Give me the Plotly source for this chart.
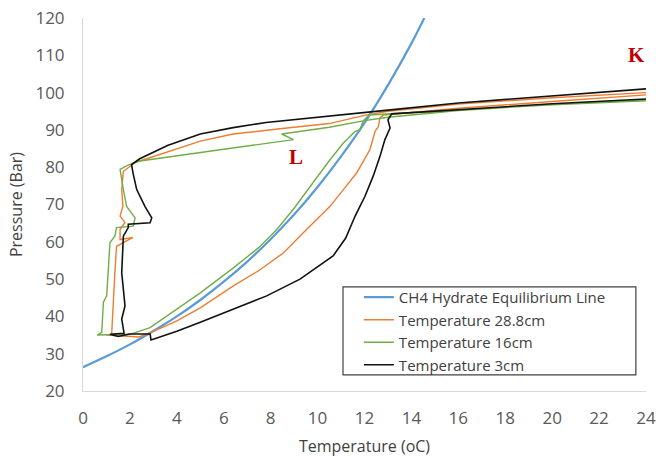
import plotly.graph_objects as go

# CH4 hydrate equilibrium line
eq_T = [0, 1, 2, 3, 4, 5, 6, 7, 8, 9, 10, 11, 12, 13, 14, 14.55]
eq_P = [26.4, 29.3, 32.5, 36.1, 40.0, 44.4, 49.3, 54.7, 60.7, 67.3, 74.7, 82.9, 91.9, 102.0, 113.2, 120.0]

# Temperature 28.8cm (orange)
t288_T = [24, 20, 16, 13, 12, 10.5, 8.4, 6.4, 5.0, 3.6, 2.8, 2.2,
          2.0, 1.72, 1.65, 1.7, 1.58, 1.79, 1.58, 1.58, 2.13, 1.43, 1.36, 1.29, 1.22, 1.22,
          1.0, 1.8, 2.4, 3.0, 4.0, 5.0, 6.41, 7.5, 8.54, 9.53, 10.53, 11.1, 11.67, 12.23,
          12.45, 12.59, 12.66, 12.8, 16, 20, 24]
t288_P = [100.0, 98.6, 96.9, 95.0, 93.9, 91.7, 90.3, 88.9, 87.0, 84.2, 82.5, 81.2,
          80.2, 78.9, 74.0, 69.5, 66.9, 65.2, 63.3, 60.6, 61.2, 58.8, 51.8, 44.6, 36.6, 35.0,
          35.0, 34.8, 34.5, 36.0, 38.8, 42.3, 48.2, 52.3, 57.0, 63.3, 69.5, 74.0, 78.5, 84.7,
          89.6, 90.9, 93.2, 94.0, 95.8, 97.6, 99.4]

# Temperature 16cm (green)
t16_T = [24, 20, 16, 13, 12, 10.5, 8.47, 8.97, 6.0, 4.0, 2.35,
         1.9, 1.58, 1.72, 1.86, 2.22, 2.14, 1.43, 1.36, 1.15, 1.08, 1.01, 0.87, 0.8,
         0.6, 1.5, 2.0, 2.86, 4.0, 5.0, 6.41, 7.5, 8.26, 9.0, 10.0, 10.53, 11.1, 11.6,
         11.8, 11.95, 12.2, 16, 20, 24]
t16_P = [98.0, 96.8, 95.2, 93.4, 92.5, 90.7, 88.9, 87.4, 84.8, 83.1, 81.6,
         80.5, 79.4, 74.0, 69.5, 66.4, 64.2, 63.8, 61.5, 59.8, 51.7, 45.5, 43.8, 35.7,
         35.0, 35.0, 35.2, 37.0, 42.0, 46.3, 53.0, 58.5, 63.3, 69.0, 77.5, 82.0, 86.5, 89.6,
         90.0, 92.5, 94.0, 95.4, 96.7, 97.8]

# Temperature 3cm (black)
t3_T = [24, 20, 16, 13, 12, 10.5, 9.0, 7.8, 6.4, 5.0, 3.6, 2.9, 2.4,
        2.07, 2.13, 2.29, 2.5, 2.64, 2.93, 2.86, 1.93, 1.93, 1.72, 1.7, 1.65, 1.72, 1.79, 1.65, 1.72, 1.75,
        1.15, 1.5, 2.0, 2.86, 2.9, 4.0, 5.0, 6.41, 7.83, 9.25, 10.66, 11.2, 11.6, 12.02, 12.37,
        12.66, 12.87, 13.09, 13.0, 13.16, 16, 20, 24]
t3_P = [101.0, 99.2, 97.2, 95.3, 94.7, 93.7, 92.8, 92.0, 90.6, 88.9, 85.8, 83.6, 82.2,
        80.7, 78.5, 74.0, 71.0, 69.5, 66.4, 65.1, 64.7, 63.8, 61.5, 58.0, 51.7, 47.3, 42.8, 39.3, 36.6, 35.5,
        35.2, 34.6, 35.3, 35.3, 33.7, 36.0, 38.4, 41.9, 45.5, 50.0, 56.2, 61.0, 66.9, 72.2, 77.6,
        82.9, 87.4, 90.5, 92.7, 94.3, 95.5, 97.0, 98.3]

# Point labels
lab_text = ["L", "K"]
lab_T = [9.08, 23.6]
lab_P = [82.7, 110.0]

fig = go.Figure()
fig.add_trace(go.Scatter(x=eq_T, y=eq_P, mode="lines", name="CH4 Hydrate Equilibrium Line",
                         line=dict(color="#5B9BD5", width=2.2, shape="spline")))
fig.add_trace(go.Scatter(x=t288_T, y=t288_P, mode="lines", name="Temperature 28.8cm",
                         line=dict(color="#ED7D31", width=1.4)))
fig.add_trace(go.Scatter(x=t16_T, y=t16_P, mode="lines", name="Temperature 16cm",
                         line=dict(color="#70AD47", width=1.4)))
fig.add_trace(go.Scatter(x=t3_T, y=t3_P, mode="lines", name="Temperature 3cm",
                         line=dict(color="#111111", width=1.6)))

for txt, xx, yy in zip(lab_text, lab_T, lab_P):
    fig.add_annotation(x=xx, y=yy, text="<b>" + txt + "</b>", showarrow=False,
                       font=dict(family="Liberation Serif", size=21, color="#C00000"))

# legend frame
fig.add_shape(type="rect", xref="paper", yref="paper", x0=0.4618, x1=0.982, y0=0.043, y1=0.279,
              line=dict(color="#404040", width=1.2), fillcolor="rgba(0,0,0,0)")

fig.update_layout(
    width=656, height=459,
    margin=dict(l=83, r=10, t=18, b=68),
    paper_bgcolor="white", plot_bgcolor="white",
    font=dict(family="Open Sans", color="#404040"),
    showlegend=True,
    legend=dict(x=0.49, y=0.295, xanchor="left", yanchor="top",
                bgcolor="rgba(0,0,0,0)", borderwidth=0,
                font=dict(size=15, color="#404040"), itemwidth=30),
    xaxis=dict(range=[0, 24], dtick=2, showgrid=False, zeroline=False, automargin=False,
               showline=True, linecolor="#d9d9d9", linewidth=1, ticklabeloverflow="allow",
               tickfont=dict(size=17, color="#595959"), ticklabelstandoff=12,
               title=dict(text="Temperature (oC)", font=dict(size=16, color="#404040"), standoff=12)),
    yaxis=dict(range=[20, 120], dtick=10, showgrid=False, zeroline=False, automargin=False,
               showline=True, linecolor="#d9d9d9", linewidth=1, ticklabeloverflow="allow",
               tickfont=dict(size=17, color="#595959"), ticklabelstandoff=14,
               title=dict(text="Pressure (Bar)", font=dict(size=16, color="#404040"), standoff=8)),
)

fig.write_html("out.html", config={"displayModeBar": False},
               post_script="document.body.style.margin='0';")
